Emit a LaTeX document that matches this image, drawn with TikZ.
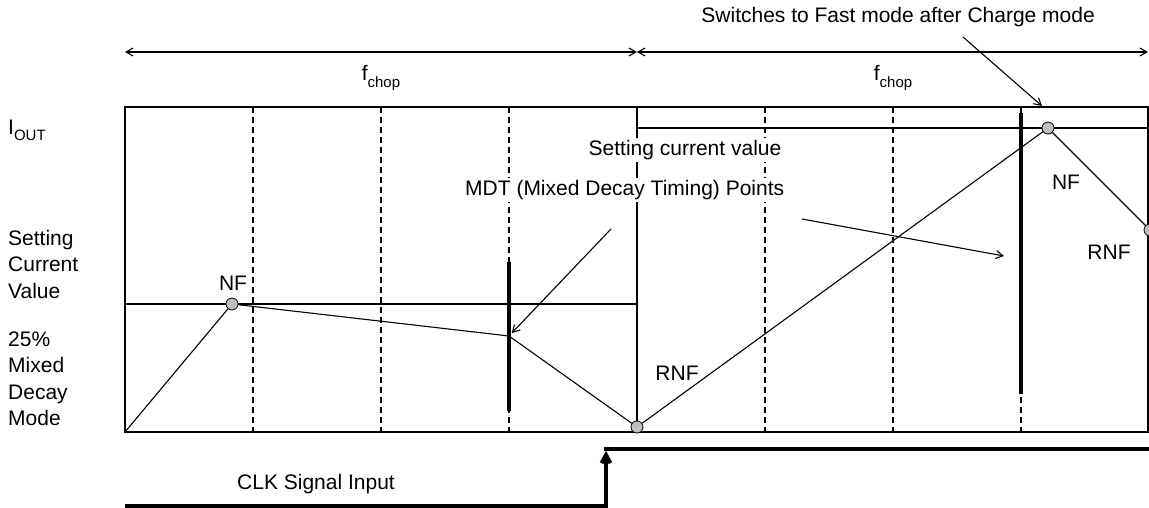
\documentclass[tikz,border=0pt]{standalone}
\usepackage{fontspec}
\setmainfont{Liberation Sans}
\definecolor{DotGrey}{HTML}{BFBFBF}
\usepackage{tikz}
\usetikzlibrary{arrows.meta}

\newcommand{\lowsub}[1]{\raisebox{-0.3em}{\fontsize{15}{15}\selectfont #1}}

\begin{document}
\begin{tikzpicture}[
    x=1pt, y=-1pt,
    font=\fontsize{21}{26.5}\selectfont,
    plot line/.style={line width=1.1pt},
    grid tick/.style={line width=1.1pt, dash pattern=on 6pt off 4pt},
    mdt bar/.style={line width=4.5pt},
    clk line/.style={line width=4pt},
    call arrow/.style={line width=1.1pt, -{Straight Barb[length=7pt,width=8pt]}},
    span arrow/.style={line width=1.1pt, {Straight Barb[length=7pt,width=8pt]}-{Straight Barb[length=7pt,width=8pt]}},
    sig dot/.style={circle, draw, fill=DotGrey, line width=0.8pt, minimum size=12pt, inner sep=0pt},
    note/.style={fill=white, inner sep=2pt},
    side label/.style={anchor=west, align=left, inner sep=0pt}
  ]
    \useasboundingbox (0,0) rectangle (1149,508);

    % frame and current levels
    \draw[plot line] (125,107) rectangle (1148,432);
    \draw[plot line] (637,107) -- (637,432);
    \draw[plot line] (125,304) -- (637,304);
    \draw[plot line] (637,128) -- (1148,128);

    % timing grid
    \foreach \x in {253,381,509,765,893,1021}
      \draw[grid tick] (\x,107) -- (\x,432);

    % MDT points
    \draw[mdt bar] (509,262) -- (509,411);
    \draw[mdt bar] (1021,113) -- (1021,394);

    % chopping periods
    \coordinate (t0) at (125,52);
    \coordinate (t1) at (637,52);
    \coordinate (t2) at (1148,52);
    \draw[span arrow] (t0) -- (t1);
    \draw[span arrow] (t1) -- (t2);
    \node (fchopA) at (381,78) {f\lowsub{chop}};
    \node (fchopB) at (893,78) {f\lowsub{chop}};

    % output current
    \coordinate (w0) at (125,432);
    \coordinate (mdt1) at (509,336);
    \node[sig dot] (nf1) at (232,304) {};
    \node[sig dot] (low) at (637,427) {};
    \node[sig dot] (nf2) at (1048,128) {};
    \node[sig dot] (rnf2) at (1150,230) {};
    \draw[plot line] (w0) -- (nf1) -- (mdt1) -- (low) -- (nf2) -- (rnf2);

    \node (nfA) at (233,283) {NF};
    \node (rnfA) at (677,373) {RNF};
    \node (nfB) at (1066,182) {NF};
    \node (rnfB) at (1109,252) {RNF};

    % notes
    \node[note] (setval) at (685,150) {Setting current value};
    \node[note, anchor=west] (mdtpts) at (463,190) {MDT (Mixed Decay Timing) Points};
    \node[anchor=east, inner sep=0pt] (switch) at (1095,17) {Switches to Fast mode after Charge mode};

    \coordinate (mdtTailA) at (611,229);
    \coordinate (mdtTailB) at (802,219);
    \coordinate (mdtHeadB) at (1004,256);
    \coordinate (swTail) at (963,37);
    \coordinate (swHead) at (1042,106);
    \draw[call arrow, shorten >=4pt] (mdtTailA) -- (mdt1);
    \draw[call arrow] (mdtTailB) -- (mdtHeadB);
    \draw[call arrow] (swTail) -- (swHead);

    % side labels
    \node[side label] (iout) at (8,130) {I\lowsub{OUT}};
    \node[side label] (setlbl) at (8,264) {Setting\\Current\\Value};
    \node[side label] (modelbl) at (8,379) {25\%\\Mixed\\Decay\\Mode};

    % clock input
    \coordinate (clk0) at (125,506);
    \coordinate (clkEdge) at (606,506);
    \coordinate (clkTip) at (606,451);
    \coordinate (clkTop) at (604,449);
    \coordinate (clk1) at (1149,449);
    \draw[clk line, -{Straight Barb[length=8pt,width=9pt]}] (clk0) -- (clkEdge) -- (clkTip);
    \draw[clk line] (clkTop) -- (clk1);
    \node (clklabel) at (316,484) {CLK Signal Input};
  \end{tikzpicture}
\end{document}
